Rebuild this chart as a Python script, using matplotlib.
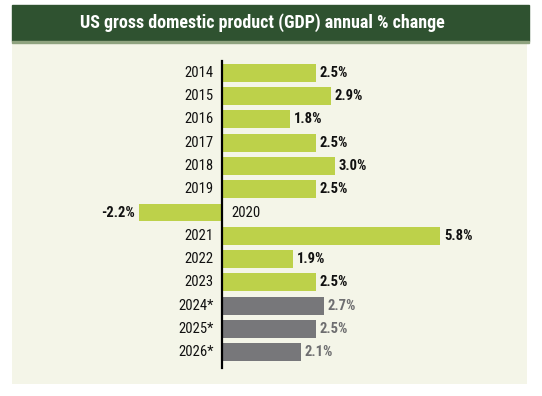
import matplotlib
matplotlib.use("Agg")
import matplotlib.pyplot as plt
from matplotlib.patches import Rectangle

plt.rcParams['font.family'] = ['Roboto Condensed', 'Lato', 'DejaVu Sans']

years = ["2014", "2015", "2016", "2017", "2018", "2019", "2020",
         "2021", "2022", "2023", "2024*", "2025*", "2026*"]
growth = [2.5, 2.9, 1.8, 2.5, 3.0, 2.5, -2.2, 5.8, 1.9, 2.5, 2.7, 2.5, 2.1]
forecast = [False] * 10 + [True] * 3

green = "#bdd14a"
gray = "#77777a"
panel = "#f4f5e8"
header = "#2f5230"

W, H = 542, 396
fig = plt.figure(figsize=(W / 100, H / 100), dpi=100)
fig.patch.set_facecolor("white")

# header band and panel
fig.patches.append(Rectangle((12 / W, 1 - 41 / H), 517 / W, 36 / H,
                             transform=fig.transFigure, color=header, zorder=0))
fig.patches.append(Rectangle((12 / W, 1 - 43 / H), 517 / W, 2 / H,
                             transform=fig.transFigure, color="#8fa37f", zorder=0))
fig.text(262 / W, 1 - 23 / H, "US gross domestic product (GDP) annual % change",
         color="white", fontsize=13, fontweight="bold", ha="center", va="center")

ax = fig.add_axes([12 / W, 1 - 384 / H, 515 / W, 341 / H])
ax.set_facecolor(panel)
for s in ax.spines.values():
    s.set_visible(False)
ax.set_xticks([])
ax.set_yticks([])

px = 37.6  # pixels per percent
ax.set_xlim((12 - 222) / px, (527 - 222) / px)
ax.set_ylim(12 + 32 / 23.33, -30 / 23.33)

ypos = list(range(len(years)))
colors = [gray if f else green for f in forecast]
ax.barh(ypos, growth, height=0.77, color=colors, zorder=2)
ax.plot([0, 0], [-0.52, 12.7], color="black", lw=1.6, zorder=3)

for y, yr, v, f in zip(ypos, years, growth, forecast):
    vc = "#6e6e70" if f else "#111111"
    lbl = f"{v:.1f}%"
    if v >= 0:
        ax.text(-0.22, y, yr, ha="right", va="center", fontsize=10.5, color="#111111")
        ax.text(v + 0.1, y, lbl, ha="left", va="center", fontsize=10.5,
                fontweight="bold", color=vc)
    else:
        ax.text(0.25, y, yr, ha="left", va="center", fontsize=10.5, color="#111111")
        ax.text(v - 0.12, y, lbl, ha="right", va="center", fontsize=10.5,
                fontweight="bold", color=vc)

fig.savefig("out.png", dpi=100, facecolor="white")
